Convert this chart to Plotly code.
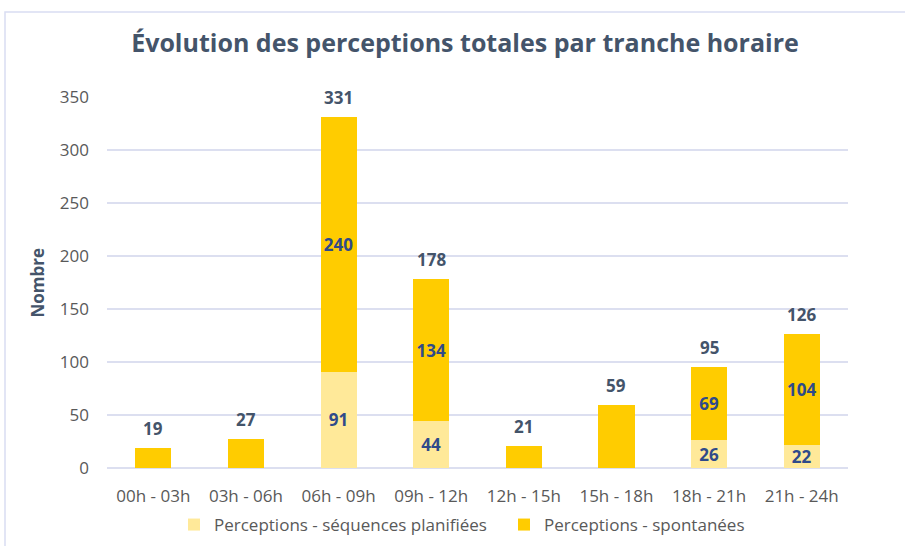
import plotly.graph_objects as go

categories = ["00h - 03h", "03h - 06h", "06h - 09h", "09h - 12h",
              "12h - 15h", "15h - 18h", "18h - 21h", "21h - 24h"]
planifiees = [0, 0, 91, 44, 0, 0, 26, 22]
spontanees = [19, 27, 240, 134, 21, 59, 69, 104]
totals = [p + s for p, s in zip(planifiees, spontanees)]

both = [p > 0 and s > 0 for p, s in zip(planifiees, spontanees)]
txt_plan = [str(v) if b else "" for v, b in zip(planifiees, both)]
txt_spon = [str(v) if b else "" for v, b in zip(spontanees, both)]

FONT = "Open Sans, Noto Sans, sans-serif"
seg_font = dict(family=FONT, size=17, color="#2F4A8A", weight="bold")

W, H = 905, 546
L, R, T, B = 107, 57, 97, 78
PW = W - L - R
PH = H - T - B

fig = go.Figure()
fig.add_trace(go.Bar(
    x=categories, y=planifiees, name="Perceptions - séquences planifiées",
    marker=dict(color="#FFE999", line=dict(width=0)), legend="legend",
    showlegend=True,
    text=txt_plan, textposition="inside", insidetextanchor="middle",
    constraintext="none", textfont=seg_font, textangle=0, hoverinfo="x+y"))
fig.add_trace(go.Bar(
    x=categories, y=spontanees, name="Perceptions - spontanées",
    marker=dict(color="#FFCC00", line=dict(width=0)), legend="legend2",
    showlegend=True,
    text=txt_spon, textposition="inside", insidetextanchor="middle",
    constraintext="none", textfont=seg_font, textangle=0, hoverinfo="x+y"))

annotations = [dict(x=c, y=t, xref="x", yref="y", text=f"<b>{t}</b>",
                    showarrow=False, yanchor="bottom", yshift=6,
                    font=dict(family=FONT, size=17, color="#44546A"))
               for c, t in zip(categories, totals)]
annotations.append(dict(x=(37 - L) / PW, y=0.5, xref="paper", yref="paper",
                        text="<b>Nombre</b>", textangle=-90, showarrow=False,
                        xanchor="center", yanchor="middle",
                        font=dict(family=FONT, size=17, color="#44546A")))

leg_common = dict(orientation="h", xanchor="left", xref="container",
                  y=1 - 525 / H, yanchor="middle", yref="container",
                  font=dict(family=FONT, size=17, color="#595959"),
                  bgcolor="rgba(0,0,0,0)", visible=True)

fig.update_layout(
    barmode="stack", bargap=0.61, showlegend=True,
    width=W, height=H,
    margin=dict(l=L, r=R, t=T, b=B, autoexpand=False),
    paper_bgcolor="white", plot_bgcolor="white",
    font=dict(family=FONT, color="#595959", size=17),
    title=dict(text="<b>Évolution des perceptions totales par tranche horaire</b>",
               x=465 / W, xanchor="center", y=1 - 43 / H, yanchor="middle",
               font=dict(family=FONT, size=25, color="#44546A")),
    legend=dict(x=(194 - 20) / W, **leg_common),
    legend2=dict(x=(524 - 20) / W, **leg_common),
    xaxis=dict(showgrid=False, showline=False, ticks="", ticklabelstandoff=16,
               tickfont=dict(family=FONT, size=17, color="#595959")),
    yaxis=dict(range=[0, 350], dtick=50, showgrid=True, gridcolor="#DCDFF0",
               gridwidth=1.5, zeroline=True, zerolinecolor="#DCDFF0",
               zerolinewidth=1.5, showline=False, ticks="", ticklabelstandoff=17,
               tickfont=dict(family=FONT, size=17, color="#595959")),
    annotations=annotations,
    shapes=[dict(type="rect", xref="paper", yref="paper",
                 x0=(5 - L) / PW, x1=1.2, y0=(H - B - 12) / PH, y1=-0.5,
                 line=dict(color="#D9DDF2", width=1.5), layer="below")],
)

fig.write_html("out.html", config={"displayModeBar": False},
               post_script="document.body.style.margin='0';"
                           "document.body.style.overflow='hidden';")
